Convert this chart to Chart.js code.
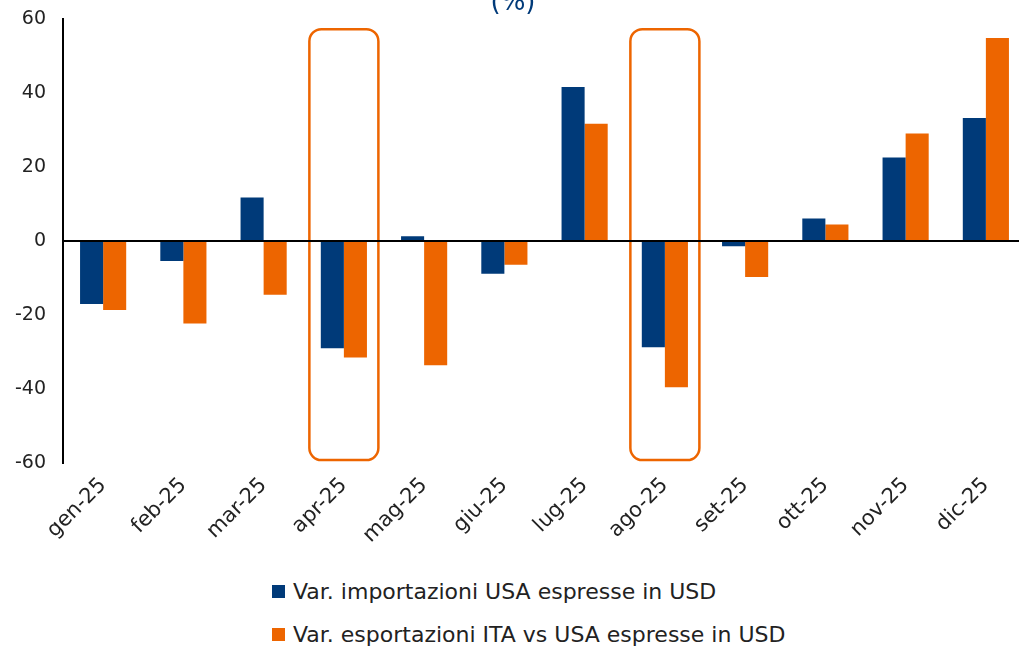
<!DOCTYPE html>
<html lang="it">
<head>
<meta charset="utf-8">
<title>Importazioni USA ed esportazioni ITA verso USA</title>
<script src="https://cdn.jsdelivr.net/npm/chart.js@4"></script>
<style>
    html, body { margin: 0; padding: 0; background: #fff; overflow: hidden; }
    body { width: 1019px; height: 646px; position: relative; font-family: 'DejaVu Sans', sans-serif; }
    #box { position: absolute; left: 0; top: -12px; width: 1026px; height: 565px; }
    #legenda { position: absolute; left: 272px; top: 579px; }
    .voce { display: flex; align-items: center; height: 24px; margin-bottom: 19px; font-size: 22px; color: #222; white-space: nowrap; }
    .quad { width: 13px; height: 13px; margin-right: 8px; }
</style>
</head>
<body>
<div id="box"><canvas id="grafico"></canvas></div>
<div id="legenda"></div>

<script>
const mesi = ['gen-25', 'feb-25', 'mar-25', 'apr-25', 'mag-25', 'giu-25', 'lug-25', 'ago-25', 'set-25', 'ott-25', 'nov-25', 'dic-25']
const importazioniUSA = [-17.0, -5.4, 11.8, -29.0, 1.3, -8.8, 41.7, -28.7, -1.4, 6.1, 22.6, 33.3]
const esportazioniITA = [-18.6, -22.3, -14.5, -31.5, -33.6, -6.4, 31.7, -39.5, -9.7, 4.5, 29.1, 54.9]
const etichette = ['Var. importazioni USA espresse in USD', 'Var. esportazioni ITA vs USA espresse in USD']
const valoriAsseY = [-60, -40, -20, 0, 20, 40, 60]
const mesiEvidenziati = ['apr-25', 'ago-25']
const rangeEvidenziato = [-59.2, 57.3]

const BLU = '#003A79'
const ARANCIO = '#ED6500'

Chart.defaults.font.family = "'DejaVu Sans', sans-serif"
Chart.defaults.color = '#222'

// riquadri arrotondati sui mesi evidenziati
const riquadri = {
    id: 'riquadri',
    afterDatasetsDraw(chart) {
        const { ctx, scales: { x, y } } = chart
        const meta = (x.getPixelForValue(1) - x.getPixelForValue(0)) * 0.43
        const top = y.getPixelForValue(rangeEvidenziato[1])
        const bottom = y.getPixelForValue(rangeEvidenziato[0])

        mesiEvidenziati.forEach(m => {
            const cx = x.getPixelForValue(mesi.indexOf(m))
            ctx.save()
            ctx.strokeStyle = ARANCIO
            ctx.lineWidth = 2.5
            ctx.beginPath()
            ctx.roundRect(cx - meta, top, meta * 2, bottom - top, 12)
            ctx.stroke()
            ctx.restore()
        })
    }
}

function creaLegenda(chart) {
    const box = document.getElementById('legenda')
    chart.data.datasets.forEach(ds => {
        const voce = document.createElement('div')
        voce.className = 'voce'
        const q = document.createElement('span')
        q.className = 'quad'
        q.style.background = ds.backgroundColor
        voce.appendChild(q)
        voce.appendChild(document.createTextNode(ds.label))
        box.appendChild(voce)
    })
}

function creaGrafico() {
    const ctx = document.getElementById('grafico').getContext('2d')

    const chart = new Chart(ctx, {
        type: 'bar',
        data: {
            labels: mesi,
            datasets: [
                {
                    label: etichette[0],
                    data: importazioniUSA,
                    backgroundColor: BLU,
                    categoryPercentage: 0.575,
                    barPercentage: 1
                },
                {
                    label: etichette[1],
                    data: esportazioniITA,
                    backgroundColor: ARANCIO,
                    categoryPercentage: 0.575,
                    barPercentage: 1
                }
            ]
        },
        options: {
            responsive: true,
            maintainAspectRatio: false,
            animation: false,
            layout: { padding: 0 },
            plugins: {
                legend: { display: false },
                tooltip: { enabled: false },
                title: {
                    display: true,
                    text: '(%)',
                    color: BLU,
                    font: { size: 26, weight: 'normal' },
                    padding: { top: 0, bottom: 0 }
                }
            },
            scales: {
                x: {
                    grid: { display: false, drawTicks: false },
                    border: { display: false },
                    ticks: {
                        minRotation: 45,
                        maxRotation: 45,
                        padding: 10,
                        font: { size: 21 }
                    },
                    afterFit: function (s) { s.height = 90 }
                },
                y: {
                    min: valoriAsseY[0],
                    max: valoriAsseY[valoriAsseY.length - 1],
                    afterBuildTicks: function (s) {
                        s.ticks = valoriAsseY.map(v => ({ value: v }))
                    },
                    grid: {
                        z: 1,
                        drawTicks: false,
                        lineWidth: 2,
                        color: function (c) {
                            return c.tick && c.tick.value === 0 ? '#000' : 'rgba(0,0,0,0)'
                        }
                    },
                    border: { color: '#000', width: 2, z: 2 },
                    ticks: { padding: 17, font: { size: 19 } },
                    afterFit: function (s) { s.width = 63 }
                }
            }
        },
        plugins: [riquadri]
    })

    creaLegenda(chart)
}

creaGrafico()
</script>
</body>
</html>
